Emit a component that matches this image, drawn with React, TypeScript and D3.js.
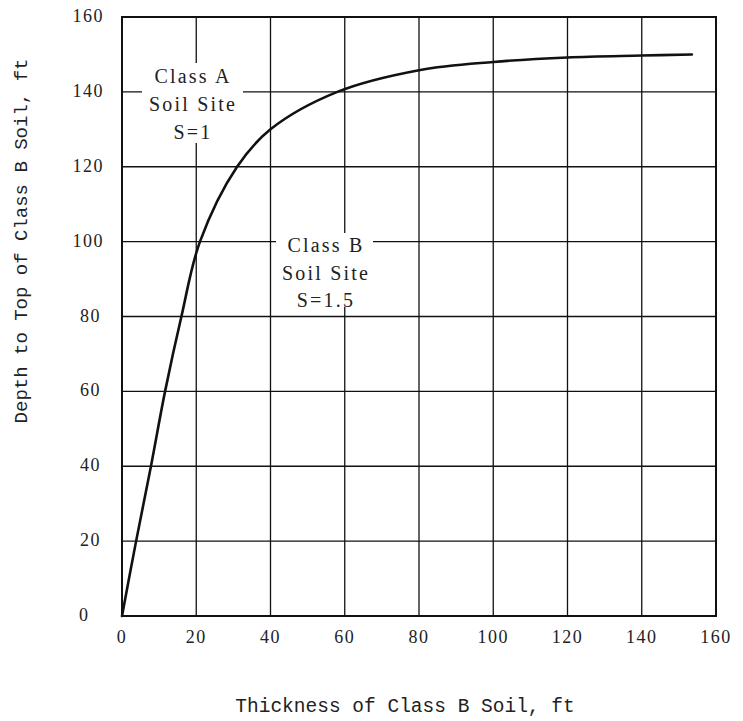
import React from 'react';
import * as d3 from 'd3';

// thickness of class B soil (ft) vs depth to top of class B soil (ft)
const thickness = [0, 3.8, 7.8, 11.6, 16, 21, 31, 40, 58, 80, 100, 120, 140, 153.5];
const depth = [0, 20, 40, 60, 80, 100, 120, 130, 140, 145.8, 148, 149.2, 149.7, 150];

const xTicks = [0, 20, 40, 60, 80, 100, 120, 140, 160];
const yTicks = [0, 20, 40, 60, 80, 100, 120, 140, 160];

const labelA = ['Class A', 'Soil Site', 'S=1'];
const labelB = ['Class B', 'Soil Site', 'S=1.5'];

const W = 743;
const H = 721;

const App = () => {
  const x = d3.scaleLinear().domain([0, 160]).range([122, 716]);
  const y = d3.scaleLinear().domain([0, 160]).range([616, 17]);

  const pts = thickness.map((t, i) => [t, depth[i]] as [number, number]);
  const line = d3.line<[number, number]>()
    .x(d => x(d[0]))
    .y(d => y(d[1]))
    .curve(d3.curveCatmullRom.alpha(0.5));

  const serif = "'Liberation Serif', 'DejaVu Serif', serif";
  const mono = "'Liberation Mono', monospace";

  return (
    <svg width={W} height={H} style={{ position: 'absolute', left: 0, top: 0, background: '#fff' }}>
      <rect width={W} height={H} fill="#fff" />

      {/* grid */}
      {xTicks.map(t => (
        <line key={'gx' + t} x1={x(t)} x2={x(t)} y1={y(0)} y2={y(160)} stroke="#111" strokeWidth={1.3} />
      ))}
      {yTicks.map(t => (
        <line key={'gy' + t} x1={x(0)} x2={x(160)} y1={y(t)} y2={y(t)} stroke="#111" strokeWidth={1.3} />
      ))}

      {/* gaps in the grid behind the labels */}
      <rect x={142} y={63} width={101} height={80} fill="#fff" />
      <rect x={276} y={233} width={97} height={74} fill="#fff" />

      {/* frame */}
      <rect x={x(0)} y={y(160)} width={x(160) - x(0)} height={y(0) - y(160)} fill="none" stroke="#111" strokeWidth={2} />

      <path d={line(pts) || ''} fill="none" stroke="#111" strokeWidth={2.6} strokeLinecap="round" />

      {/* y tick labels */}
      {yTicks.map(t => {
        const s = String(t);
        const anchor = s.length === 1 ? 'start' : 'end';
        const px = s.length === 3 ? 104 : s.length === 2 ? 101 : 79;
        return (
          <text key={'ty' + t} x={px} y={y(t) + 5} textAnchor={anchor} fontFamily={serif} fontSize={18} letterSpacing={1.5} fill="#222">
            {s}
          </text>
        );
      })}

      {/* x tick labels */}
      {xTicks.map(t => (
        <text key={'tx' + t} x={x(t)} y={643} textAnchor="middle" fontFamily={serif} fontSize={18} letterSpacing={1.5} fill="#222">
          {t}
        </text>
      ))}

      {labelA.map((s, i) => (
        <text key={'a' + i} x={193} y={83 + i * 28} textAnchor="middle" fontFamily={serif} fontSize={20} letterSpacing={2.2} fill="#222">
          {s}
        </text>
      ))}
      {labelB.map((s, i) => (
        <text key={'b' + i} x={326} y={252 + i * 27.5} textAnchor="middle" fontFamily={serif} fontSize={20} letterSpacing={2.2} fill="#222">
          {s}
        </text>
      ))}

      <text x={405} y={712} textAnchor="middle" fontFamily={mono} fontSize={19.5} fill="#222">
        Thickness of Class B Soil, ft
      </text>
      <text transform="translate(27,241) rotate(-90)" textAnchor="middle" fontFamily={mono} fontSize={19} fill="#222">
        Depth to Top of Class B Soil, ft
      </text>
    </svg>
  );
};

export default App;
